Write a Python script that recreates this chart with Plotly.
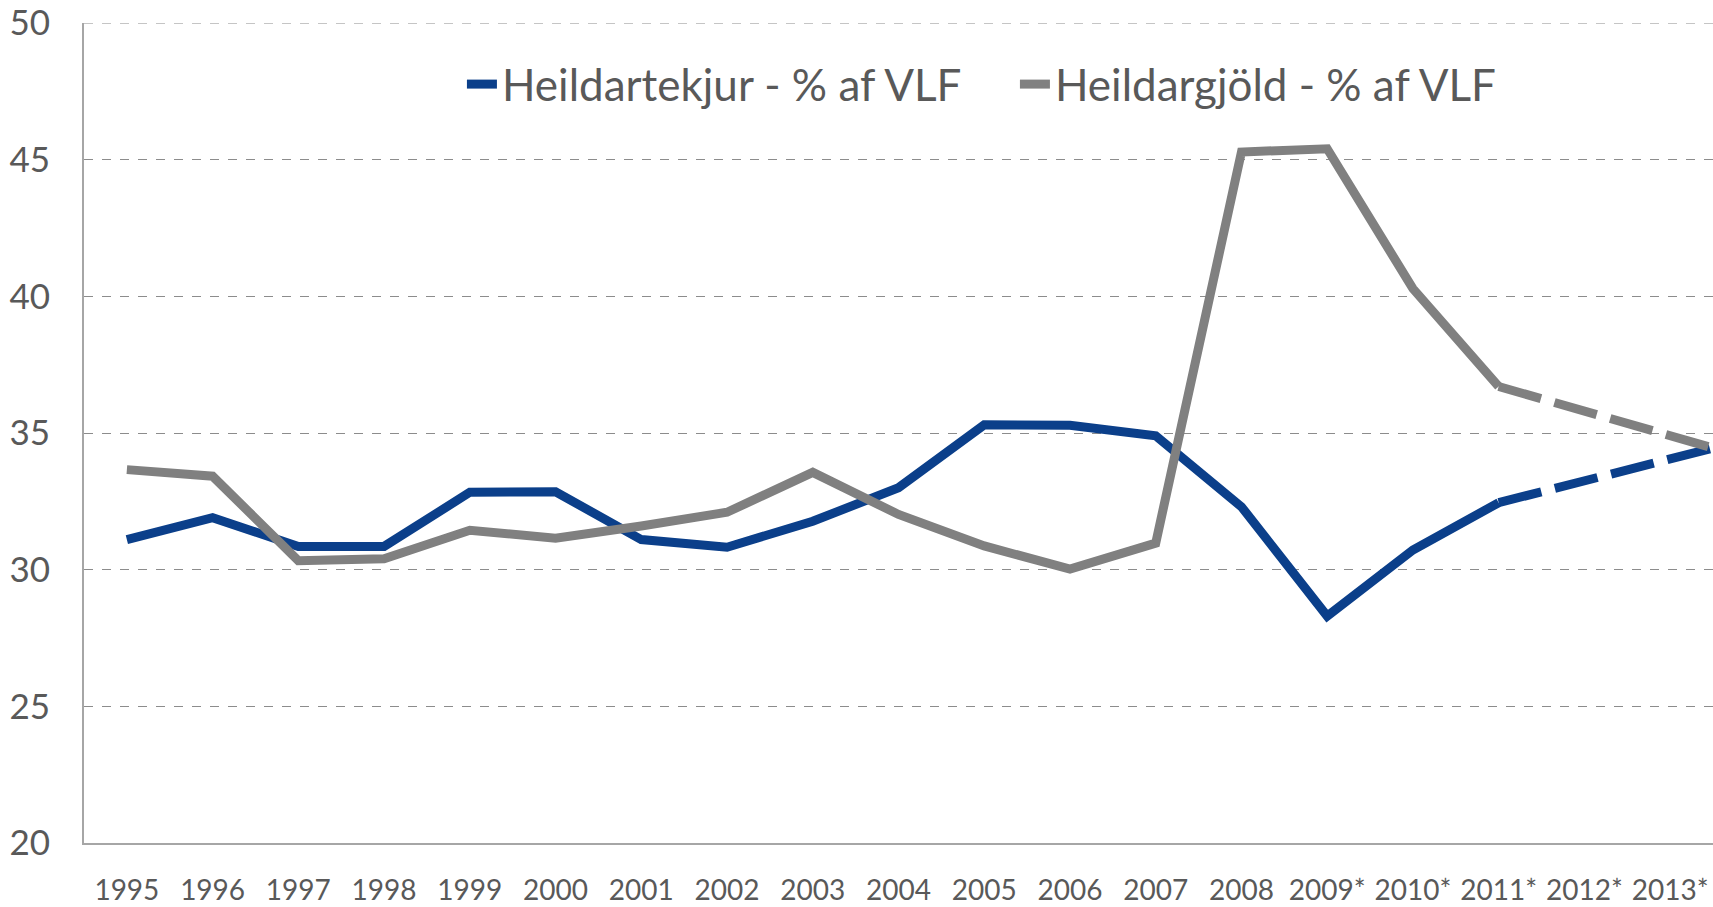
import plotly.graph_objects as go

categories = ["1995", "1996", "1997", "1998", "1999", "2000", "2001", "2002", "2003",
              "2004", "2005", "2006", "2007", "2008", "2009*", "2010*", "2011*",
              "2012*", "2013*", "2014*"]
tekjur = [31.1, 31.9, 30.85, 30.85, 32.83, 32.85, 31.1, 30.82, 31.77,
          33.0, 35.3, 35.28, 34.9, 32.3, 28.3, 30.72, 32.45,
          33.25, 34.05, 34.85]
gjold = [33.66, 33.42, 30.33, 30.4, 31.44, 31.15, 31.6, 32.1, 33.56,
         32.02, 30.87, 30.02, 30.97, 45.28, 45.4, 40.28, 36.7,
         35.8, 34.9, 34.0]
name_tekjur = "Heildartekjur - % af VLF"
name_gjold = "Heildargjöld - % af VLF"
ytick_vals = [20, 25, 30, 35, 40, 45, 50]

split = categories.index("2011*")
BLUE = "#0b3f8a"
GRAY = "#808080"
GRID = "#8c8c8c"
FONT = "Lato, DejaVu Sans Condensed, sans-serif"

fig = go.Figure()
for name, vals, col in [(name_tekjur, tekjur, BLUE), (name_gjold, gjold, GRAY)]:
    fig.add_trace(go.Scatter(x=categories[:split + 1], y=vals[:split + 1], mode="lines",
                             name=name, line=dict(color=col, width=9),
                             showlegend=True, legendgroup=name))
    fig.add_trace(go.Scatter(x=categories[split:], y=vals[split:], mode="lines",
                             name=name, line=dict(color=col, width=9, dash="44px,14px"),
                             showlegend=False, legendgroup=name))

# top gridline (at the upper edge of the axis range)
fig.add_hline(y=ytick_vals[-1], line=dict(color=GRID, width=1, dash="dash"), layer="below")

fig.update_layout(
    width=1713, height=907,
    margin=dict(l=84, r=0, t=23, b=64, autoexpand=False),
    plot_bgcolor="white", paper_bgcolor="white",
    font=dict(family=FONT, color="#595959"),
    legend=dict(orientation="h", x=0.232, y=0.925, xanchor="left", yanchor="middle",
                font=dict(size=44, color="#595959"), bgcolor="rgba(0,0,0,0)",
                itemwidth=30, entrywidth=508, tracegroupgap=0),
    xaxis=dict(type="category", categoryorder="array", categoryarray=categories,
               range=[-0.5, 18.5], showgrid=False, showline=True, linecolor="#a6a6a6",
               linewidth=2, ticks="", tickangle=0, automargin=False,
               tickfont=dict(size=28, color="#595959"), ticklabeloverflow="allow",
               ticklabelstandoff=21, fixedrange=True),
    yaxis=dict(range=[20, 50], tickvals=ytick_vals, showgrid=True, gridcolor=GRID,
               griddash="dash", gridwidth=1, showline=True, linecolor="#a6a6a6",
               linewidth=2, ticks="", automargin=False, ticklabeloverflow="allow",
               tickfont=dict(size=35, color="#595959"),
               ticklabelstandoff=25, zeroline=False, fixedrange=True),
)

fig.write_html("out.html", config={"displayModeBar": False},
               post_script="document.body.style.margin='0';")
